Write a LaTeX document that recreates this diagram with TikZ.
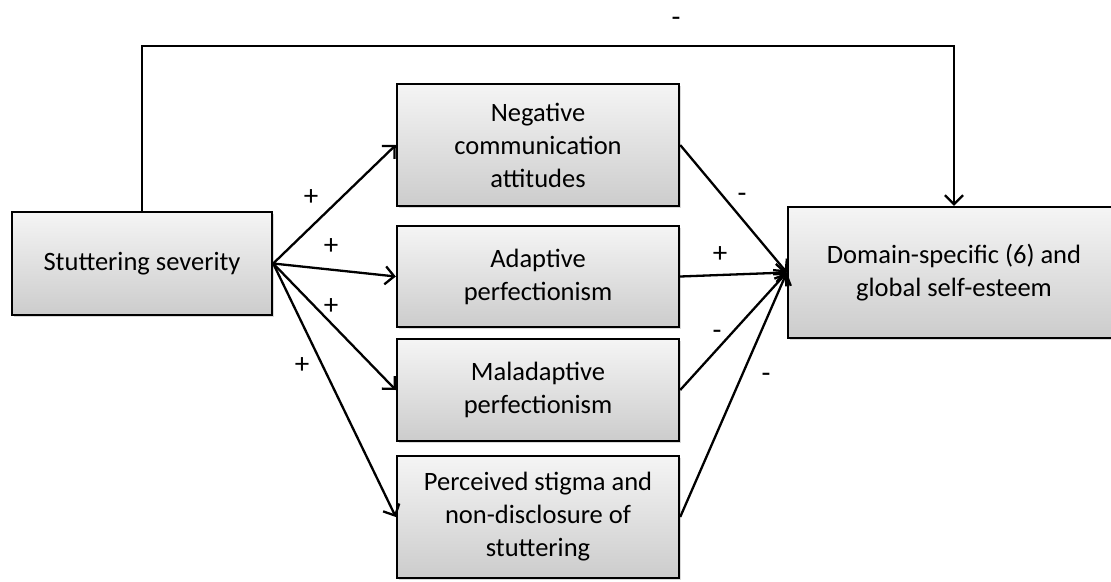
\documentclass[tikz,border=0pt]{standalone}
\usepackage{fontspec}
\setmainfont{Carlito}
\usetikzlibrary{arrows.meta,shadows}

\tikzset{
  box/.style={draw, line width=2.4pt, top color=gray!8, bottom color=gray!40, align=center, inner sep=0pt, drop shadow={opacity=0.3, shadow xshift=2pt, shadow yshift=-2pt}, font=\fontsize{26.5}{33}\selectfont},
  link/.style={line width=2.3pt, -{Straight Barb[length=9pt, width=18pt]}},
  sign/.style={font=\fontsize{29}{33}\selectfont, inner sep=0pt}
}

\begin{document}
\begin{tikzpicture}[x=1pt,y=-1pt]
\useasboundingbox (0,0) rectangle (1111,581);
\node[box, minimum width=260pt, minimum height=103pt] (sev) at (142,263.5) {Stuttering severity};
\node[box, minimum width=282pt, minimum height=122pt] (neg) at (538,145) {Negative\\communication\\attitudes};
\node[box, minimum width=282pt, minimum height=101pt] (ada) at (538,276.5) {Adaptive\\perfectionism};
\node[box, minimum width=282pt, minimum height=102pt] (mal) at (538,390) {Maladaptive\\perfectionism};
\node[box, minimum width=282pt, minimum height=122pt] (stig) at (538,517) {Perceived stigma and\\non-disclosure of\\stuttering};
\node[box, minimum width=332pt, minimum height=131pt] (dom) at (954,272.5) {Domain-specific (6) and\\global self-esteem};
\coordinate (up) at (142,46);
\draw[link] (sev.north) -- (up) -| (dom.north);
\draw[link] (sev.east) -- (neg.west);
\draw[link] (sev.east) -- (ada.west);
\draw[link] (sev.east) -- (mal.west);
\draw[link] (sev.east) -- (stig.west);
\draw[link] (neg.east) -- (dom.west);
\draw[link] (ada.east) -- (dom.west);
\draw[link] (mal.east) -- (dom.west);
\draw[link] (stig.east) -- (dom.west);
\node[sign] (s0) at (676,22) {-};
\node[sign] (p1) at (311,198) {+};
\node[sign] (p2) at (331,247) {+};
\node[sign] (p3) at (331,307) {+};
\node[sign] (p4) at (302,366) {+};
\node[sign] (m1) at (742,198) {-};
\node[sign] (p5) at (720,255) {+};
\node[sign] (m3) at (717,335) {-};
\node[sign] (m4) at (766,378) {-};
\end{tikzpicture}
\end{document}
